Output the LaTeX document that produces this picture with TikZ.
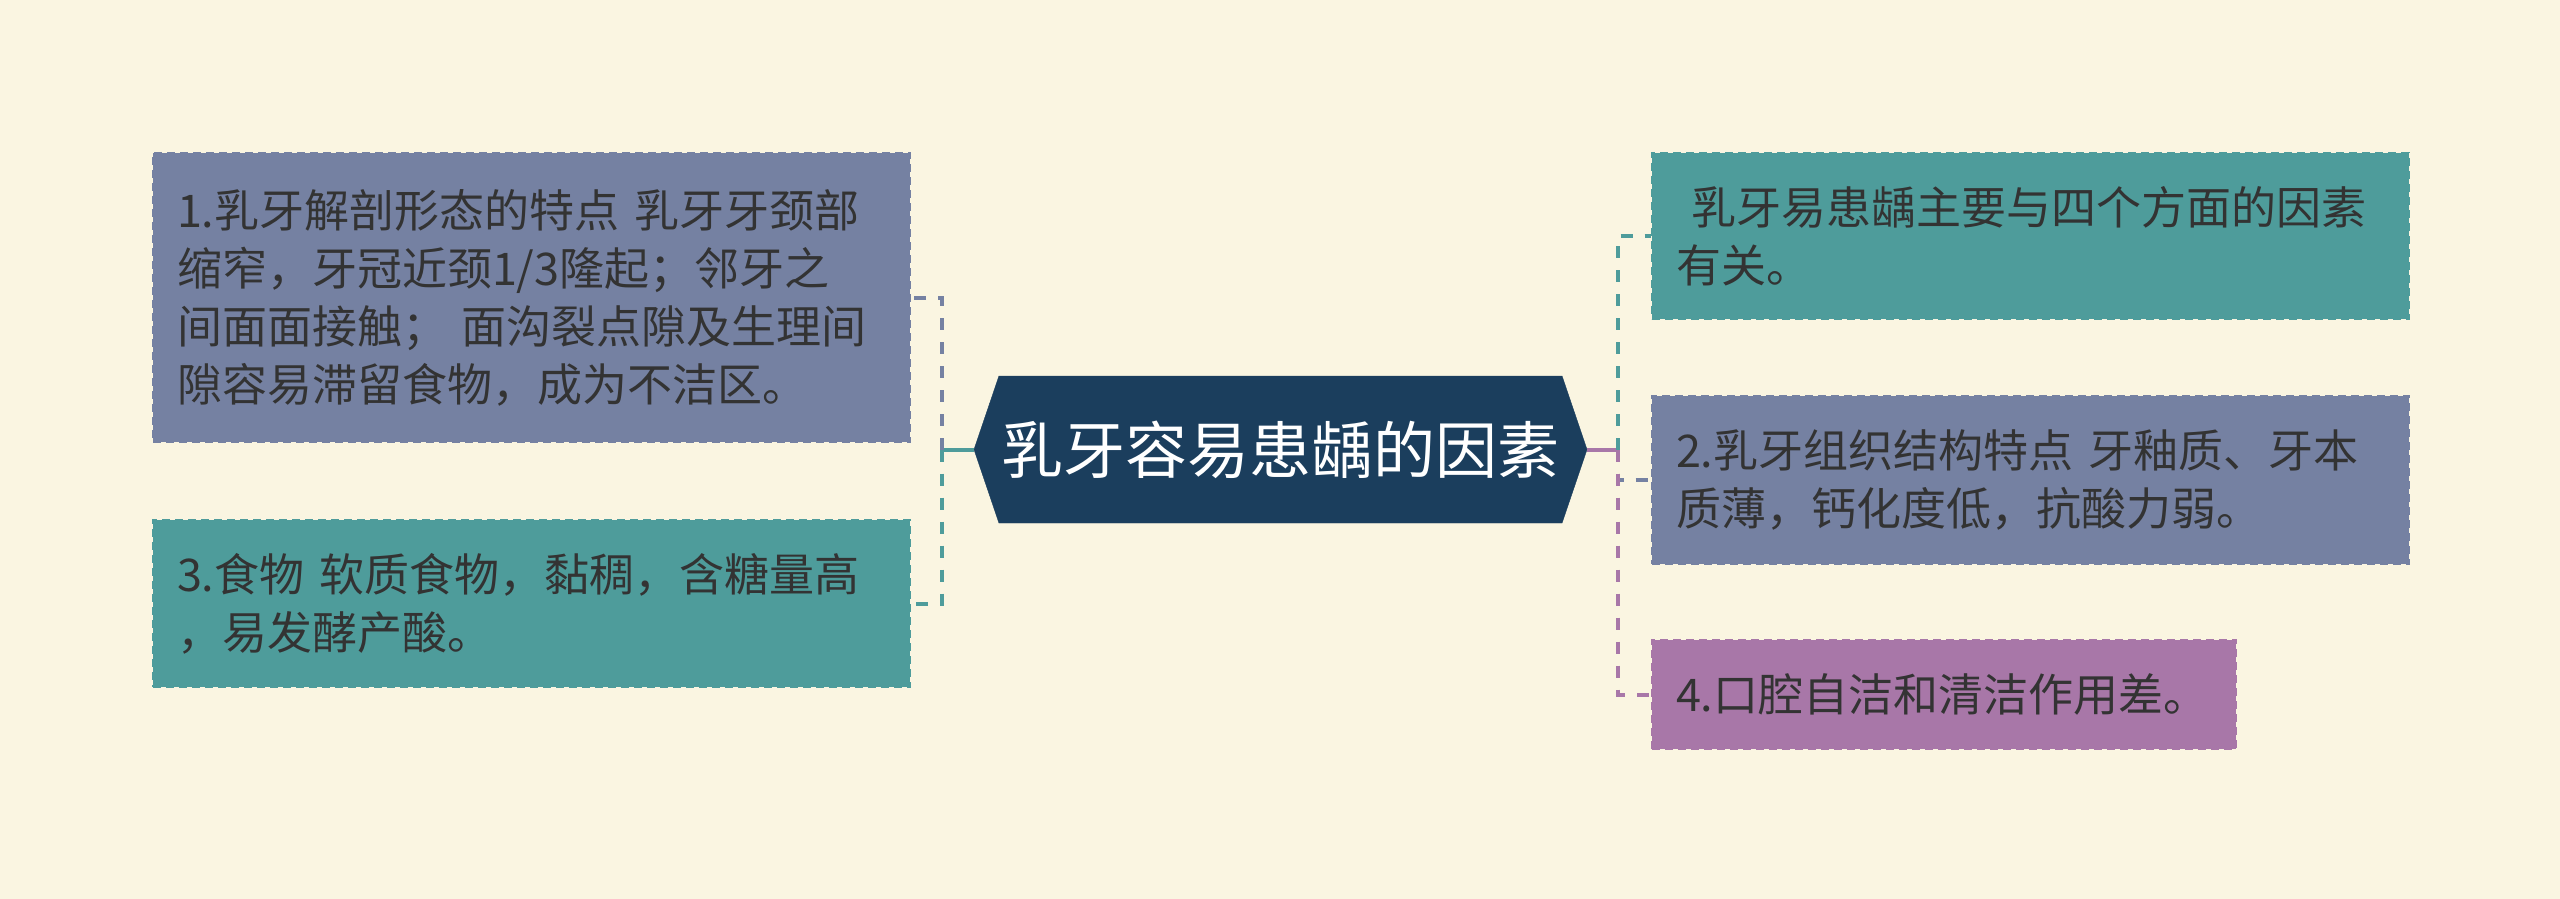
\documentclass[tikz,border=0pt]{standalone}
\usepackage{fontspec}
\setmainfont{Noto Sans CJK SC}
\usetikzlibrary{shapes.symbols}

\definecolor{bgcream}{HTML}{FAF5E1}
\definecolor{slate}{HTML}{7581A2}
\definecolor{seagreen}{HTML}{4E9C9B}
\definecolor{mauve}{HTML}{A877A8}
\definecolor{navy}{HTML}{1B3E5D}
\definecolor{inkgray}{HTML}{333333}

\tikzset{
  hub/.style={signal, signal to=east and west, signal pointer angle=142.5,
    fill=navy, draw=navy, text=white, inner sep=0pt,
    minimum width=613pt, minimum height=147pt,
    font=\fontsize{62pt}{74pt}\selectfont},
  leaf/.style={rectangle, anchor=north west, fill=#1, draw=#1,
    line width=2pt, dash pattern=on 8pt off 5pt,
    inner xsep=24pt, inner ysep=0pt, align=left, text=inkgray,
    font=\fontsize{45pt}{58pt}\selectfont},
  link/.style={draw=#1, line width=4pt},
  twig/.style={link=#1, dash pattern=on 12pt off 12pt},
}

\begin{document}
\begin{tikzpicture}[x=1pt,y=-1pt]
\fill[bgcream] (0,0) rectangle (2560,899);

\node (root) [hub] at (1280.5,449.5) {乳牙容易患龋的因素};

\node (f1) [leaf=slate, text width=709pt, minimum height=289pt] at (152,152)
  {1.乳牙解剖形态的特点 乳牙牙颈部\\缩窄，牙冠近颈1/3隆起；邻牙之\\间面面接触；\ 面沟裂点隙及生理间\\隙容易滞留食物，成为不洁区。};
\node (f3) [leaf=seagreen, text width=709pt, minimum height=167pt] at (152,519)
  {3.食物 软质食物，黏稠，含糖量高\\，易发酵产酸。};
\node (f0) [leaf=seagreen, text width=709pt, minimum height=166pt] at (1651,152)
  {\ 乳牙易患龋主要与四个方面的因素\\有关。};
\node (f2) [leaf=slate, text width=709pt, minimum height=168pt] at (1651,395)
  {2.乳牙组织结构特点 牙釉质、牙本\\质薄，钙化度低，抗酸力弱。};
\node (f4) [leaf=mauve, text width=536pt, minimum height=109pt] at (1651,639)
  {4.口腔自洁和清洁作用差。};

\coordinate (lj) at (942,449.5);
\coordinate (rj) at (1618,449.5);

\draw[link=seagreen] (root.west) -- (lj);
\draw[twig=slate] (lj) |- (f1.east);
\draw[twig=seagreen] (lj) |- (f3.east);

\draw[link=mauve] (root.east) -- (rj);
\draw[twig=seagreen] (rj) |- (f0.west);
\draw[twig=slate] (rj) |- (f2.west);
\draw[twig=mauve] (rj) |- (f4.west);
\end{tikzpicture}
\end{document}
